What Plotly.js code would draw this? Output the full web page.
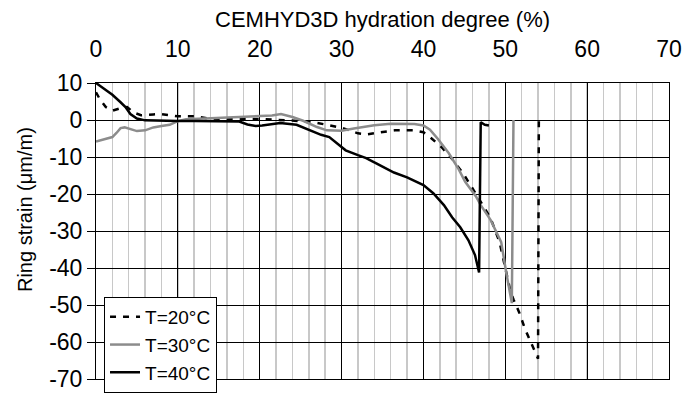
<!DOCTYPE html>
<html>
<head>
<meta charset="utf-8">
<script src="https://cdn.plot.ly/plotly-3.0.1.min.js"></script>
<style>html,body{margin:0;padding:0;background:#fff;}#chart{width:688px;height:401px;}</style>
</head>
<body>
<div id="chart"></div>
<script>
// Series names
const seriesNames = ["T=20°C", "T=30°C", "T=40°C"];

// T=20°C (dashed black)
const x20 = [0, 0.5, 1.2, 2, 3, 3.8, 4.6, 5.5, 7, 8, 10, 12, 14, 16, 18, 20, 22, 24, 26, 28, 30, 32, 33, 34.5, 36.5, 38.8, 40, 41, 42.2, 43.5, 44.9, 46, 47, 48.2, 49.3, 50, 50.6, 51, 51.7, 52.4, 53.3, 54, 54.1];
const y20 = [7.5, 5.5, 3.5, 2.5, 3.2, 3.5, 2, 1.3, 1.5, 1.6, 1.0, 1.0, 0.3, 0.4, 0.3, 0.3, 0.0, -0.2, -0.4, -1.2, -2.1, -3.6, -3.9, -3.4, -2.8, -2.8, -3.3, -5, -7.3, -10.5, -14.6, -18.5, -22, -26.5, -33, -40, -46, -48.5, -52, -56.4, -60.7, -64.5, 0];

// T=30°C (grey)
const x30 = [0, 1, 2, 2.5, 3, 3.5, 4, 5, 6, 7, 8, 9, 10, 11, 14, 17, 20, 21.5, 22.6, 24, 25.3, 27, 28.2, 30, 31.5, 33, 34, 36, 38.9, 40, 40.8, 41.8, 43.1, 44.3, 45.1, 46.4, 47, 48.2, 49.5, 50.1, 50.8, 51.0];
const y30 = [-5.8, -5.2, -4.6, -3.5, -2.2, -2.0, -2.4, -3.0, -2.8, -2.0, -1.6, -1.3, -0.3, 0.2, 0.5, 0.8, 0.9, 1.2, 1.6, 0.8, -0.2, -1.9, -2.8, -2.9, -2.3, -1.8, -1.4, -1.0, -1.1, -1.5, -2.6, -5.2, -9, -13.3, -16.7, -20.6, -23, -27, -33, -41, -49.5, 0];

// T=40°C (black)
const x40 = [0, 1, 2, 3, 3.6, 4.2, 5, 6, 8, 10, 12, 14, 16, 17.5, 18.5, 19.5, 20.3, 21.5, 22.5, 24.5, 26, 27.5, 28.5, 29.5, 30.5, 32, 33, 34.3, 36.4, 38, 40, 41.2, 42.5, 43.5, 44.5, 45.5, 46.3, 46.8, 47.0, 47.5, 48];
const y40 = [10, 8.5, 6.8, 4.8, 3.5, 1.6, 0.4, -0.1, -0.3, -0.3, -0.3, -0.3, -0.3, -0.4, -1.2, -1.6, -1.5, -1.1, -0.8, -1.3, -2.6, -4, -4.6, -6.5, -8.2, -9.5, -10.3, -11.8, -14.2, -15.5, -17.6, -19.8, -23, -26.3, -29, -32.5, -36.5, -41.2, -0.6, -1.3, -1.5];

// Axis ticks and titles
const xTicks = [0, 10, 20, 30, 40, 50, 60, 70];
const yTicks = [10, 0, -10, -20, -30, -40, -50, -60, -70];
const xTitle = "CEMHYD3D hydration degree (%)";
const yTitle = "Ring strain (μm/m)";

const font = "Liberation Sans, Arial, sans-serif";

const traces = [
  {x: x20, y: y20, name: seriesNames[0], mode: "lines", line: {color: "#000", width: 2.5, dash: "6px,7px"}},
  {x: x30, y: y30, name: seriesNames[1], mode: "lines", line: {color: "#8c8c8c", width: 2.5}},
  {x: x40, y: y40, name: seriesNames[2], mode: "lines", line: {color: "#000", width: 2.5}}
];

const layout = {
  width: 688, height: 401,
  margin: {l: 96, r: 19, t: 83, b: 8},
  paper_bgcolor: "#fff", plot_bgcolor: "#fff",
  font: {family: font, size: 20, color: "#000"},
  showlegend: true,
  legend: {
    x: 0.014, y: 0.277, xanchor: "left", yanchor: "top",
    bgcolor: "#fff", bordercolor: "#000", borderwidth: 1,
    font: {family: font, size: 19, color: "#000"},
    traceorder: "normal", itemwidth: 30, tracegroupgap: 0
  },
  xaxis: {
    side: "top", range: [0, 70], tickvals: xTicks, ticktext: xTicks.map(String),
    showgrid: true, gridcolor: "#000", gridwidth: 1,
    minor: {dtick: 2, showgrid: true, gridcolor: "#c8c8c8", gridwidth: 1.5},
    zeroline: false, showline: true, linecolor: "#000", linewidth: 1, mirror: true,
    ticks: "", ticklabelstandoff: 16, tickfont: {family: font, size: 23},
    automargin: false
  },
  yaxis: {
    range: [-70, 10], tickvals: yTicks, ticktext: yTicks.map(String),
    showgrid: true, gridcolor: "#000", gridwidth: 1,
    zeroline: false, showline: true, linecolor: "#000", linewidth: 1, mirror: true,
    ticks: "outside", ticklen: 8, tickcolor: "#000",
    tickfont: {family: font, size: 23},
    automargin: false
  },
  annotations: [
    {text: xTitle, xref: "paper", yref: "paper", x: 0.5, y: 1.215, xanchor: "center", yanchor: "middle",
     showarrow: false, font: {family: font, size: 22, color: "#000"}},
    {text: yTitle, xref: "paper", yref: "paper", x: -0.124, y: 0.574, xanchor: "center", yanchor: "middle",
     textangle: -90, showarrow: false, font: {family: font, size: 20, color: "#000"}}
  ]
};

Plotly.newPlot("chart", traces, layout, {staticPlot: true, displayModeBar: false});
</script>
</body>
</html>
